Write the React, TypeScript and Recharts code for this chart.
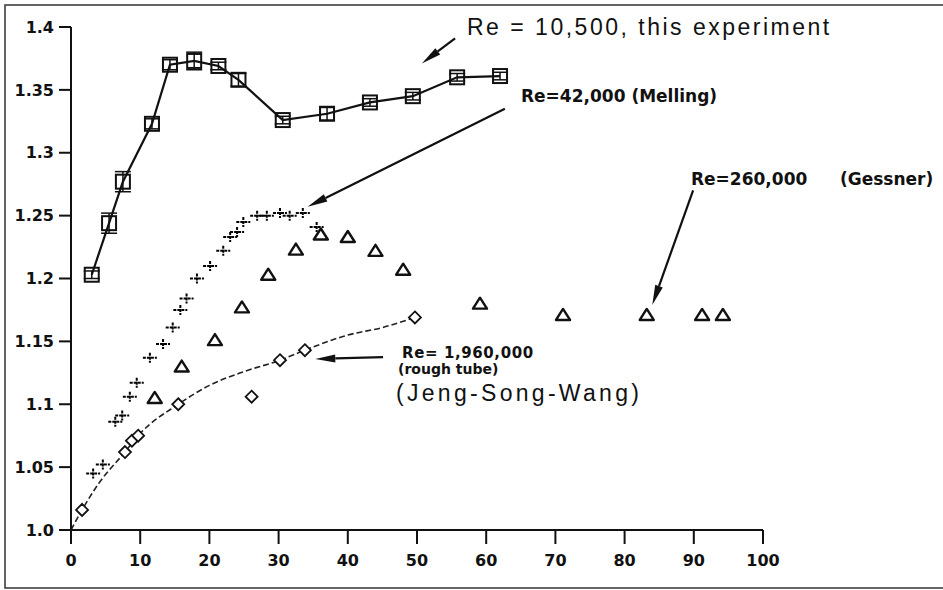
import React from "react";
import {
  ComposedChart,
  Line,
  Scatter,
  XAxis,
  YAxis,
  ErrorBar,
  ReferenceLine,
} from "recharts";

// Re = 10,500, this experiment (squares, solid line)
const squareX = [3, 5.5, 7.5, 11.7, 14.3, 17.8, 21.3, 24.2, 30.6, 37, 43.2, 49.4, 55.8, 62];
const squareY = [1.203, 1.244, 1.277, 1.323, 1.37, 1.373, 1.369, 1.358, 1.326, 1.331, 1.34, 1.345, 1.36, 1.361];
const squareErr = [0.003, 0.008, 0.008, 0.004, 0.004, 0.007, 0.003, 0.005, 0.003, 0.005, 0.003, 0.003, 0.003, 0.003];

// Re = 42,000 (Melling), crosses
const meltingX = [3.2, 4.6, 6.4, 7.4, 8.5, 9.5, 11.4, 13.3, 14.7, 15.8, 16.7, 18.2, 20.1, 22, 23, 24, 24.9, 26.9, 28.3, 30.2, 31.6, 33.5, 35.5];
const meltingY = [1.045, 1.052, 1.086, 1.091, 1.106, 1.117, 1.137, 1.148, 1.161, 1.175, 1.184, 1.2, 1.21, 1.222, 1.233, 1.237, 1.245, 1.25, 1.25, 1.252, 1.25, 1.252, 1.241];

// Re = 260,000 (Gessner), triangles
const gessnerX = [12.1, 16, 20.8, 24.7, 28.5, 32.5, 36.1, 40, 44, 48, 59.1, 71.1, 83.2, 91.2, 94.2];
const gessnerY = [1.105, 1.13, 1.151, 1.177, 1.203, 1.223, 1.235, 1.233, 1.222, 1.207, 1.18, 1.171, 1.171, 1.171, 1.171];

// Re = 1,960,000 rough tube (Jeng-Song-Wang), diamonds + dashed curve
const roughX = [1.6, 7.8, 8.8, 9.7, 15.5, 26.1, 30.2, 33.8, 49.7];
const roughY = [1.016, 1.062, 1.071, 1.075, 1.1, 1.106, 1.135, 1.143, 1.169];
const curveX = [0, 1.6, 4, 7.8, 9.7, 15.5, 20, 25, 30.2, 33.8, 40, 45, 49.7];
const curveY = [1.0, 1.016, 1.037, 1.062, 1.075, 1.1, 1.115, 1.126, 1.135, 1.143, 1.155, 1.161, 1.169];

const xTicks = [0, 10, 20, 30, 40, 50, 60, 70, 80, 90, 100];
const yTicks = [1.0, 1.05, 1.1, 1.15, 1.2, 1.25, 1.3, 1.35, 1.4];
const yTickLabels = ["1.0", "1.05", "1.1", "1.15", "1.2", "1.25", "1.3", "1.35", "1.4"];

// annotation arrows, in data units: [x1, y1, x2 (tip), y2 (tip)]
const arrows = [
  [55.5, 1.391, 50.7, 1.371],
  [62.7, 1.335, 34.2, 1.257],
  [89.9, 1.27, 84.0, 1.179],
  [45.1, 1.1375, 35.3, 1.136],
];

const zip = (xs: number[], ys: number[]) => xs.map((x, i) => ({ x, y: ys[i] }));

const squareData = squareX.map((x, i) => ({ x, y: squareY[i], err: squareErr[i] }));
const meltingData = zip(meltingX, meltingY);
const gessnerData = zip(gessnerX, gessnerY);
const roughData = zip(roughX, roughY);
const curveData = zip(curveX, curveY);

const ink = "#111";
const tickFont = { fontFamily: "DejaVu Sans", fontWeight: 700, fontSize: 16, fill: ink };

const SquareDot = (p: any) => (
  <rect key={p.index} x={p.cx - 7} y={p.cy - 7} width={14} height={14} fill="none" stroke={ink} strokeWidth={2} />
);

const Cross = (p: any) => (
  <g>
    <line x1={p.cx - 7} y1={p.cy} x2={p.cx + 7} y2={p.cy} stroke="#000" strokeWidth={2} strokeDasharray="3 1" />
    <line x1={p.cx} y1={p.cy - 5} x2={p.cx} y2={p.cy + 5} stroke="#000" strokeWidth={2} strokeDasharray="3 1" />
  </g>
);

const Triangle = (p: any) => (
  <polygon
    points={`${p.cx},${p.cy - 6} ${p.cx - 7},${p.cy + 5} ${p.cx + 7},${p.cy + 5}`}
    fill="#fff"
    stroke={ink}
    strokeWidth={2.4}
    strokeLinejoin="round"
  />
);

const Diamond = (p: any) => (
  <polygon
    points={`${p.cx},${p.cy - 6} ${p.cx + 6},${p.cy} ${p.cx},${p.cy + 6} ${p.cx - 6},${p.cy}`}
    fill="#fff"
    stroke={ink}
    strokeWidth={1.8}
  />
);

const Arrow = (p: any) => {
  const { x1, y1, x2, y2 } = p;
  const a = Math.atan2(y2 - y1, x2 - x1);
  const len = 20;
  const hw = 4;
  const bx = x2 - len * Math.cos(a);
  const by = y2 - len * Math.sin(a);
  const nx = -Math.sin(a) * hw;
  const ny = Math.cos(a) * hw;
  return (
    <g>
      <line x1={x1} y1={y1} x2={bx} y2={by} stroke={ink} strokeWidth={2.2} />
      <polygon points={`${x2},${y2} ${bx + nx},${by + ny} ${bx - nx},${by - ny}`} fill={ink} />
    </g>
  );
};

export default function App() {
  return (
    <div style={{ position: "absolute", left: 0, top: 0, width: 943, height: 590, background: "#fff" }}>
      <ComposedChart width={943} height={590} margin={{ top: 27, right: 180, bottom: 0, left: 0 }}>
        <XAxis
          type="number"
          dataKey="x"
          domain={[0, 100]}
          ticks={xTicks}
          allowDataOverflow
          height={60}
          tickSize={14}
          tickMargin={11}
          axisLine={{ stroke: ink, strokeWidth: 2 }}
          tickLine={{ stroke: ink, strokeWidth: 2 }}
          tick={tickFont}
        />
        <YAxis
          type="number"
          dataKey="y"
          domain={[1.0, 1.4]}
          ticks={yTicks}
          allowDataOverflow
          width={71}
          tickSize={12}
          tickMargin={5}
          tickFormatter={(v: number) => yTickLabels[yTicks.indexOf(v)] ?? String(v)}
          axisLine={{ stroke: ink, strokeWidth: 2 }}
          tickLine={{ stroke: ink, strokeWidth: 2 }}
          tick={tickFont}
        />
        <Line
          data={curveData}
          dataKey="y"
          type="monotone"
          stroke="#222"
          strokeWidth={1.6}
          strokeDasharray="6 3"
          dot={false}
          activeDot={false}
          isAnimationActive={false}
        />
        <Line
          data={squareData}
          dataKey="y"
          type="linear"
          stroke={ink}
          strokeWidth={2.2}
          dot={SquareDot}
          activeDot={false}
          isAnimationActive={false}
        >
          <ErrorBar dataKey="err" direction="y" width={8} stroke={ink} strokeWidth={1.5} />
        </Line>
        <Scatter data={meltingData} dataKey="y" shape={Cross} isAnimationActive={false} />
        <Scatter data={gessnerData} dataKey="y" shape={Triangle} isAnimationActive={false} />
        <Scatter data={roughData} dataKey="y" shape={Diamond} isAnimationActive={false} />
        {arrows.map(([x1, y1, x2, y2], i) => (
          <ReferenceLine
            key={i}
            segment={[{ x: x1, y: y1 }, { x: x2, y: y2 }]}
            ifOverflow="visible"
            shape={Arrow}
          />
        ))}
      </ComposedChart>
      <svg
        width={943}
        height={590}
        style={{ position: "absolute", left: 0, top: 0, pointerEvents: "none" }}
      >
        <polyline points="943,5 5,5 5,588 943,588" fill="none" stroke="#333" strokeWidth={1.5} />
        <text x={467} y={35} fontFamily="Liberation Sans" fontSize={23} letterSpacing={2.5} fill={ink}>
          Re = 10,500, this experiment
        </text>
        <g fontFamily="DejaVu Sans" fontWeight={700} fill={ink}>
          <text x={521} y={102} fontSize={17}>Re=42,000 (Melling)</text>
          <text x={691} y={185} fontSize={17}>Re=260,000</text>
          <text x={840} y={185} fontSize={17}>(Gessner)</text>
          <text x={402} y={358} fontSize={15} letterSpacing={0.6}>Re= 1,960,000</text>
          <text x={398} y={374} fontSize={14}>(rough tube)</text>
        </g>
        <text x={396} y={401} fontFamily="Liberation Sans" fontSize={23} letterSpacing={3.3} fill={ink}>
          (Jeng-Song-Wang)
        </text>
      </svg>
    </div>
  );
}
